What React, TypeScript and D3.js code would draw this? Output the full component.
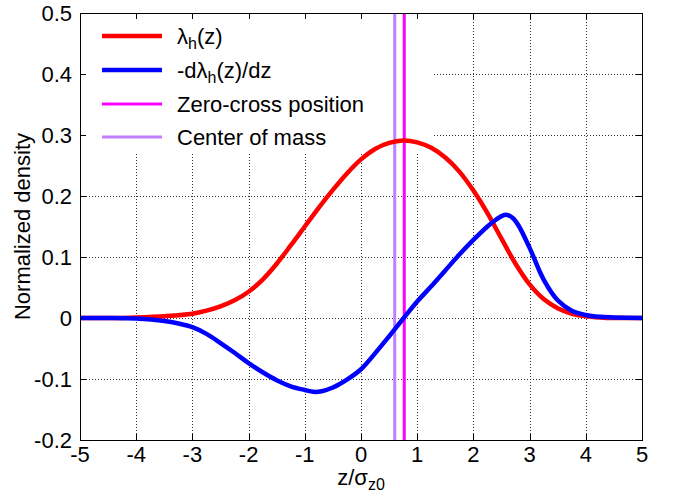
import React from "react";
import * as d3 from "d3";

// z/sigma_z0 sample positions and values
const zRed = [-5, -4.5, -4, -3.5, -3, -2.75, -2.5, -2.25, -2, -1.75, -1.5, -1.25, -1, -0.75, -0.5, -0.25, 0, 0.25, 0.5, 0.75, 1, 1.25, 1.5, 1.75, 2, 2.25, 2.5, 2.75, 3, 3.25, 3.5, 3.75, 4, 4.25, 4.5, 5];
const lambdaVals = [0, 0, 0.001, 0.003, 0.007, 0.012, 0.019, 0.029, 0.043, 0.063, 0.089, 0.119, 0.15, 0.181, 0.21, 0.237, 0.26, 0.277, 0.287, 0.291, 0.288, 0.279, 0.263, 0.24, 0.209, 0.172, 0.13, 0.089, 0.055, 0.031, 0.016, 0.007, 0.003, 0.001, 0, 0];

const zBlue = [-5, -4.5, -4, -3.5, -3.25, -3, -2.75, -2.5, -2.25, -2, -1.75, -1.5, -1.25, -1, -0.85, -0.7, -0.5, -0.25, 0, 0.25, 0.5, 0.76, 1, 1.25, 1.5, 1.75, 2, 2.25, 2.4, 2.5, 2.6, 2.7, 2.8, 3, 3.25, 3.5, 3.75, 4, 4.25, 4.5, 5];
const derivVals = [0, 0, -0.001, -0.005, -0.009, -0.015, -0.026, -0.041, -0.057, -0.074, -0.089, -0.102, -0.112, -0.118, -0.121, -0.12, -0.114, -0.101, -0.084, -0.058, -0.03, 0, 0.027, 0.052, 0.078, 0.104, 0.128, 0.15, 0.161, 0.167, 0.169, 0.164, 0.152, 0.115, 0.063, 0.029, 0.012, 0.005, 0.002, 0.001, 0];

const zeroCrossPos = 0.77;
const centerOfMassPos = 0.6;

const xTicks = [-5, -4, -3, -2, -1, 0, 1, 2, 3, 4, 5];
const yTicks = [-0.2, -0.1, 0, 0.1, 0.2, 0.3, 0.4, 0.5];
const yTickLabels = ["-0.2", "-0.1", "0", "0.1", "0.2", "0.3", "0.4", "0.5"];

const W = 676;
const H = 494;
const L = 80;
const R = 642;
const T = 13;
const B = 440;
const FONT = "'Liberation Sans', Arial, sans-serif";
const FS = 22;

const RED = "#ff0000";
const BLUE = "#0000ff";
const MAGENTA = "#ff00ff";
const PURPLE = "#c080ff";

export default function App() {
  const x = d3.scaleLinear().domain([-5, 5]).range([L, R]);
  const y = d3.scaleLinear().domain([-0.2, 0.5]).range([B, T]);

  const line = d3
    .line<[number, number]>()
    .x((d) => x(d[0]))
    .y((d) => y(d[1]))
    .curve(d3.curveCatmullRom.alpha(0.5));

  const redPath = line(zRed.map((z, i) => [z, lambdaVals[i]] as [number, number])) || "";
  const bluePath = line(zBlue.map((z, i) => [z, derivVals[i]] as [number, number])) || "";

  // key region (opaque background in reference)
  const keyR = 432;
  const keyB = 153;

  const legendRows = [
    { color: RED, w: 4.5, y: 36 },
    { color: BLUE, w: 4.5, y: 70 },
    { color: MAGENTA, w: 3, y: 104 },
    { color: PURPLE, w: 3, y: 137 },
  ];
  const lx1 = 102;
  const lx2 = 162;
  const tx = 177;
  const subFs = 16;

  return (
    <svg
      width={W}
      height={H}
      viewBox={`0 0 ${W} ${H}`}
      style={{ position: "absolute", left: 0, top: 0, background: "#fff" }}
      fontFamily={FONT}
    >
      <rect x={0} y={0} width={W} height={H} fill="#fff" />
      <defs>
        <clipPath id="plotClip">
          <rect x={L} y={T} width={R - L} height={B - T} />
        </clipPath>
      </defs>

      {/* grid */}
      <g stroke="#333" strokeWidth={1} strokeDasharray="1,2" shapeRendering="crispEdges">
        {xTicks.slice(1, -1).map((t) => (
          <line key={"gx" + t} x1={Math.round(x(t)) + 0.5} x2={Math.round(x(t)) + 0.5} y1={T} y2={B} />
        ))}
        {yTicks.slice(1, -1).map((t) => (
          <line key={"gy" + t} x1={L} x2={R} y1={Math.round(y(t)) + 0.5} y2={Math.round(y(t)) + 0.5} />
        ))}
      </g>

      {/* key background */}
      <rect x={L + 1} y={T + 1} width={keyR - L - 1} height={keyB - T - 1} fill="#fff" />

      {/* ticks */}
      <g stroke="#000" strokeWidth={1} shapeRendering="crispEdges">
        {xTicks.map((t) => (
          <g key={"tx" + t}>
            <line x1={Math.round(x(t)) + 0.5} x2={Math.round(x(t)) + 0.5} y1={B} y2={B - 6} />
            <line x1={Math.round(x(t)) + 0.5} x2={Math.round(x(t)) + 0.5} y1={T} y2={T + 6} />
          </g>
        ))}
        {yTicks.map((t) => (
          <g key={"ty" + t}>
            <line x1={L} x2={L + 6} y1={Math.round(y(t)) + 0.5} y2={Math.round(y(t)) + 0.5} />
            <line x1={R} x2={R - 6} y1={Math.round(y(t)) + 0.5} y2={Math.round(y(t)) + 0.5} />
          </g>
        ))}
      </g>

      {/* data */}
      <g clipPath="url(#plotClip)">
        <line x1={x(centerOfMassPos)} x2={x(centerOfMassPos)} y1={T} y2={B} stroke={PURPLE} strokeWidth={3} />
        <line x1={x(zeroCrossPos)} x2={x(zeroCrossPos)} y1={T} y2={B} stroke={MAGENTA} strokeWidth={3} />
        <path d={redPath} fill="none" stroke={RED} strokeWidth={4.5} strokeLinejoin="round" />
        <path d={bluePath} fill="none" stroke={BLUE} strokeWidth={4.5} strokeLinejoin="round" />
      </g>

      {/* frame */}
      <rect x={L + 0.5} y={T + 0.5} width={R - L} height={B - T} fill="none" stroke="#000" strokeWidth={1} shapeRendering="crispEdges" />

      {/* tick labels */}
      <g fontSize={FS} fill="#000">
        {xTicks.map((t) => (
          <text key={"lx" + t} x={x(t)} y={462} textAnchor="middle">
            {String(t)}
          </text>
        ))}
        {yTicks.map((t, i) => (
          <text key={"ly" + t} x={72} y={y(t) + 8} textAnchor="end">
            {yTickLabels[i]}
          </text>
        ))}
      </g>

      {/* axis titles */}
      <text x={x(0)} y={485} textAnchor="middle" fontSize={FS}>
        z/σ
        <tspan fontSize={subFs} dy={5}>z0</tspan>
      </text>
      <text
        transform={`translate(30, ${(T + B) / 2}) rotate(-90)`}
        textAnchor="middle"
        fontSize={FS}
      >
        Normalized density
      </text>

      {/* legend */}
      {legendRows.map((r, i) => (
        <line key={"ll" + i} x1={lx1} x2={lx2} y1={r.y} y2={r.y} stroke={r.color} strokeWidth={r.w} />
      ))}
      <g fontSize={FS} fill="#000">
        <text x={tx} y={legendRows[0].y + 8}>
          λ<tspan fontSize={subFs} dy={5}>h</tspan>
          <tspan dy={-5}>(z)</tspan>
        </text>
        <text x={tx} y={legendRows[1].y + 8}>
          -dλ<tspan fontSize={subFs} dy={5}>h</tspan>
          <tspan dy={-5}>(z)/dz</tspan>
        </text>
        <text x={tx} y={legendRows[2].y + 8}>Zero-cross position</text>
        <text x={tx} y={legendRows[3].y + 8}>Center of mass</text>
      </g>
    </svg>
  );
}
